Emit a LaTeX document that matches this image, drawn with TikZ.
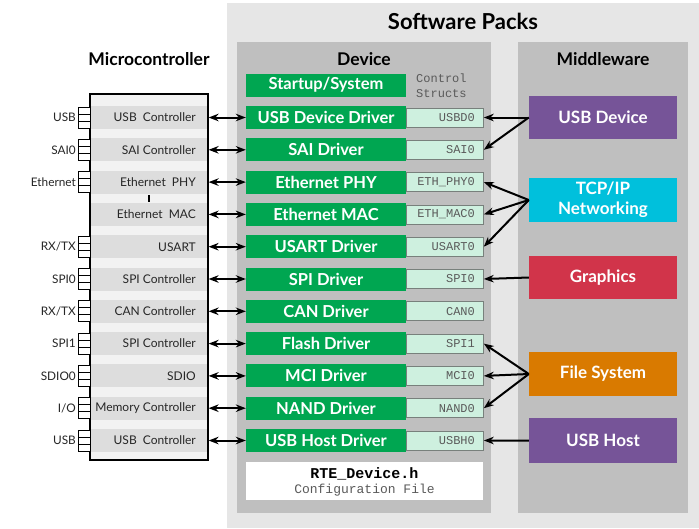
\documentclass[tikz,border=0pt]{standalone}
\usepackage{fontspec}
\setmainfont{Lato}
\newfontfamily\monofont{Liberation Mono}
\usetikzlibrary{arrows.meta}
\definecolor{outergray}{RGB}{230,230,230}
\definecolor{panelgray}{RGB}{191,191,191}
\definecolor{drvgreen}{RGB}{0,166,81}
\definecolor{structfill}{RGB}{206,240,223}
\definecolor{structdraw}{RGB}{120,128,124}
\definecolor{mcufill}{RGB}{242,242,242}
\definecolor{bandgray}{RGB}{221,221,221}
\definecolor{mwpurple}{RGB}{118,84,152}
\definecolor{mwcyan}{RGB}{0,192,220}
\definecolor{mwred}{RGB}{209,52,74}
\definecolor{mworange}{RGB}{217,122,0}
\definecolor{monotext}{RGB}{90,90,90}
\begin{document}
\begin{tikzpicture}[x=1pt,y=-1pt,
  title/.style={font=\fontsize{17.5}{20}\selectfont\bfseries, text=black, inner sep=0pt},
  driver/.style={fill=drvgreen, text=white, minimum width=160pt, minimum height=23pt, inner sep=0pt, font=\fontsize{16.5}{19}\selectfont\bfseries},
  cstruct/.style={fill=structfill, draw=structdraw, line width=0.8pt, text width=60pt, align=right, inner xsep=8.5pt, inner ysep=0pt, minimum height=19pt, font=\monofont\fontsize{12}{14}\selectfont, text=monotext},
  mcutext/.style={anchor=east, inner sep=0pt, font=\fontsize{12}{14}\selectfont, text=black!85},
  pinlabel/.style={anchor=east, inner sep=0pt, font=\fontsize{11.8}{14}\selectfont, text=black!85},
  pin/.style={draw=black, fill=white, line width=1pt},
  mw/.style={minimum width=148pt, minimum height=43pt, inner sep=0pt, text=white, align=center, font=\fontsize{17}{20}\selectfont\bfseries},
  biarr/.style={line width=2pt, {Stealth[length=10pt,width=7.5pt]}-{Stealth[length=10pt,width=7.5pt]}},
  arr/.style={line width=2pt, -{Stealth[length=10pt,width=7.5pt]}}
]
\useasboundingbox (0,0) rectangle (699,528);
\fill[white] (0,0) rectangle (699,528);
% panels
\fill[outergray] (227,3) rectangle (699,528);
\fill[panelgray] (237,42) rectangle (491,513);
\fill[panelgray] (518,42) rectangle (688,513);
\node[title, font=\fontsize{22}{25}\selectfont\bfseries] (sp) at (463,21) {Software Packs};
\node[title] (devt) at (364,59) {Device};
\node[title] (mwt) at (603,59) {Middleware};
\node[title] (mct) at (149,59) {Microcontroller};
% startup
\node[driver] (startup) at (326,85) {Startup/System};
\node[anchor=west, inner sep=0pt, align=left, font=\monofont\fontsize{12}{15}\selectfont, text=monotext] (cs) at (416,85.5) {Control\\Structs};
% microcontroller box
\fill[mcufill] (90,94) rectangle (208,460);
\foreach \i in {0,...,10} {
  \pgfmathsetmacro{\yy}{117.5+32.3*\i}
  \fill[bandgray] (91,\yy-11.5) rectangle (207,\yy+11.5);
}
\node[draw=black, line width=1.2pt, minimum width=118pt, minimum height=366pt, inner sep=0pt] (mcu) at (149,277) {};
\draw[line width=2pt] (149,195) -- (149,202);
% rows
\foreach \i/\drv/\cs/\mc in {
  0/USB Device Driver/USBD0/USB\ \ Controller,
  1/SAI Driver/SAI0/SAI Controller,
  2/Ethernet PHY/ETH\_PHY0/Ethernet\ \ PHY,
  3/Ethernet MAC/ETH\_MAC0/Ethernet\ \ MAC,
  4/USART Driver/USART0/USART,
  5/SPI Driver/SPI0/SPI Controller,
  6/CAN Driver/CAN0/CAN Controller,
  7/Flash Driver/SPI1/SPI Controller,
  8/MCI Driver/MCI0/SDIO,
  9/NAND Driver/NAND0/Memory Controller,
  10/USB Host Driver/USBH0/USB\ \ Controller} {
  \pgfmathsetmacro{\yy}{117.5+32.3*\i}
  \node[driver] (d\i) at (326,\yy) {\drv};
  \node[cstruct, anchor=west] (s\i) at (406,\yy) {\cs};
  \node[mcutext] (m\i) at (196,\yy) {\mc};
  \draw[biarr] (mcu.east |- d\i.west) -- (d\i.west);
}
% pins
\foreach \i/\pl in {0/USB,1/SAI0,2/Ethernet,4/{RX/TX},5/SPI0,6/{RX/TX},7/SPI1,8/SDIO0,9/{I/O},10/USB} {
  \pgfmathsetmacro{\yy}{117.5+32.3*\i}
  \draw[pin] (78,\yy-10.5) rectangle (90,\yy-3.5);
  \draw[pin] (78,\yy-3.5) rectangle (90,\yy+3.5);
  \draw[pin] (78,\yy+3.5) rectangle (90,\yy+10.5);
  \node[pinlabel] (p\i) at (76,\yy) {\pl};
}
% RTE box
\node[fill=white, minimum width=237pt, minimum height=38pt, inner sep=0pt] (rte) at (364.5,481) {};
\node[inner sep=0pt, font=\monofont\bfseries\fontsize{15}{17}\selectfont, text=black] (rtename) at (364.5,473.5) {RTE\_Device.h};
\node[inner sep=0pt, font=\monofont\fontsize{13}{15}\selectfont, text=monotext] (rtecfg) at (364.5,490.5) {Configuration File};
% middleware
\node[mw, fill=mwpurple] (usbd) at (603,117.5) {USB Device};
\node[mw, fill=mwcyan, minimum height=44pt] (tcp) at (603,200) {TCP/IP\\Networking};
\node[mw, fill=mwred] (gfx) at (603,277.5) {Graphics};
\node[mw, fill=mworange, minimum height=44pt] (fs) at (603,374) {File System};
\node[mw, fill=mwpurple, minimum height=45pt] (usbh) at (603,440.5) {USB Host};
% arrows
\draw[arr] (usbd.west) -- (s0.east);
\draw[arr] (usbd.west) -- (s1.east);
\draw[arr] (tcp.west) -- (s2.east);
\draw[arr] (tcp.west) -- (s3.east);
\draw[arr] (tcp.west) -- (s4.east);
\draw[arr] (gfx.west) -- (s5.east);
\draw[arr] (fs.west) -- (s7.east);
\draw[arr] (fs.west) -- (s8.east);
\draw[arr] (fs.west) -- (s9.east);
\draw[arr] (usbh.west) -- (s10.east);
\end{tikzpicture}
\end{document}
